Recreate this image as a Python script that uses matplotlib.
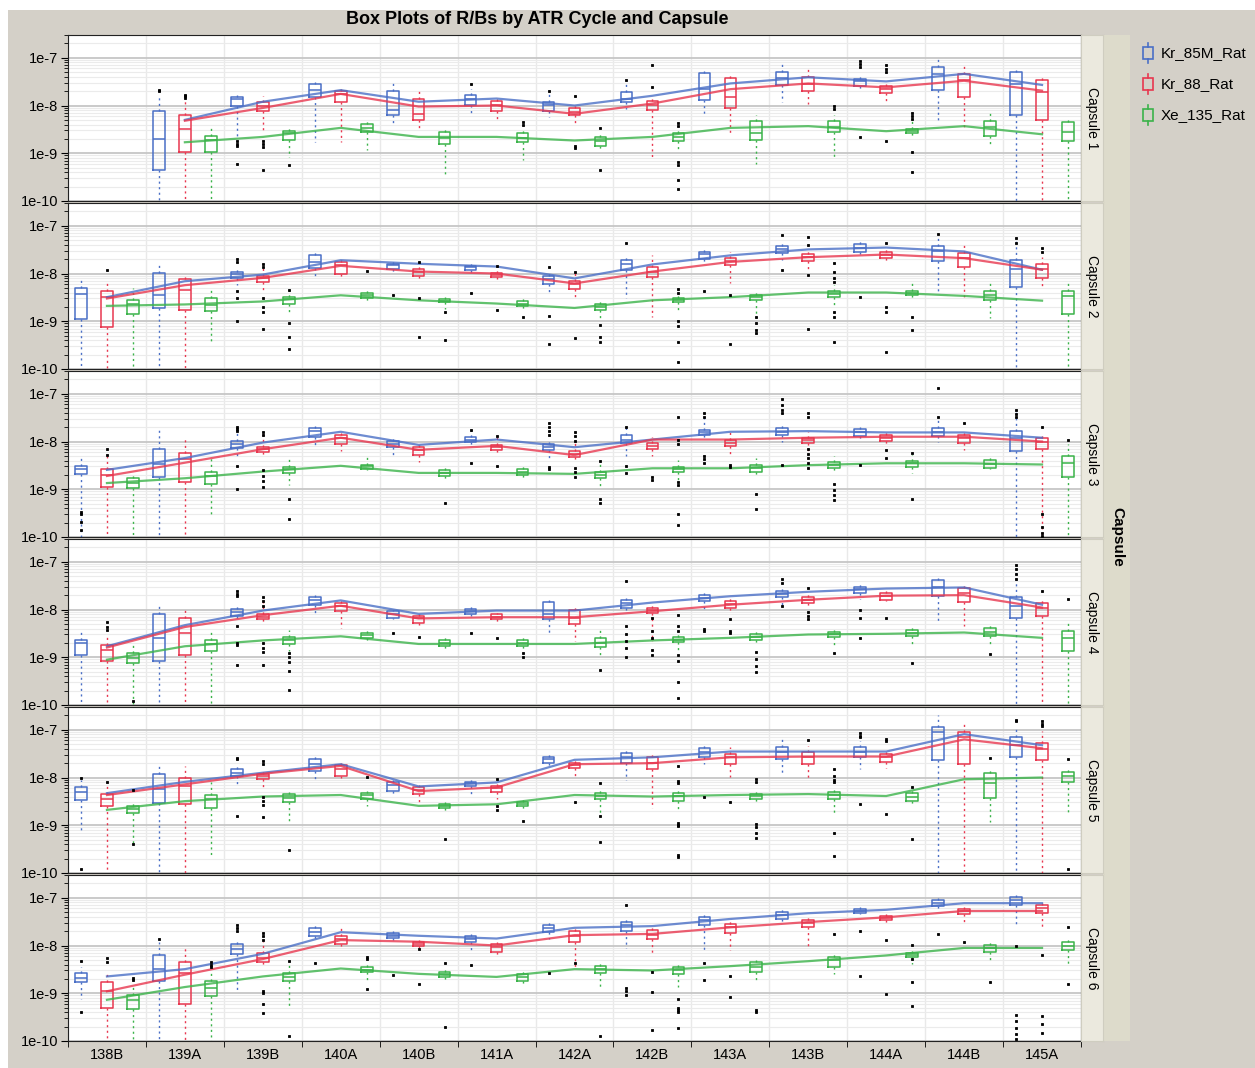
import matplotlib
matplotlib.use("Agg")
import matplotlib.pyplot as plt
from matplotlib.patches import Rectangle
from matplotlib.ticker import LogLocator, NullFormatter, FixedLocator
import numpy as np

plt.rcParams['font.family'] = ['Liberation Sans', 'DejaVu Sans']

TITLE = "Box Plots of R/Bs by ATR Cycle and Capsule"
CYCLES = ["138B", "139A", "139B", "140A", "140B", "141A", "142A",
          "142B", "143A", "143B", "144A", "144B", "145A"]
CAPSULES = ["Capsule 1", "Capsule 2", "Capsule 3", "Capsule 4", "Capsule 5", "Capsule 6"]
SERIES = ["Kr_85M_Rat", "Kr_88_Rat", "Xe_135_Rat"]
COLORS = ["#4a6fc6", "#e8374f", "#3bb34a"]

# box stats per capsule, per cycle: (whisker low, q1, median, q3, whisker high)
BOX_KR85M = [
    [None, (8e-11, 4.4e-10, 2.0e-9, 7.6e-9, 1.7e-8), (2.0e-9, 9.8e-9, 1.35e-8, 1.5e-8, 1.7e-8),
     (1.7e-9, 1.5e-8, 2.1e-8, 2.8e-8, 3.1e-8), (4.0e-9, 6.2e-9, 8.1e-9, 2.0e-8, 3.1e-8),
     (6.7e-9, 1.05e-8, 1.35e-8, 1.7e-8, 2.2e-8), (5.7e-9, 7.6e-9, 1.05e-8, 1.2e-8, 2.0e-8),
     (8.5e-9, 1.2e-8, 1.4e-8, 1.9e-8, 2.8e-8), (6.7e-9, 1.3e-8, 2.2e-8, 4.8e-8, 5.4e-8),
     (1.2e-8, 2.7e-8, 3.8e-8, 5.1e-8, 7.4e-8), (2.1e-8, 2.6e-8, 3.2e-8, 3.6e-8, 4.3e-8),
     (4.9e-9, 2.1e-8, 4.5e-8, 6.3e-8, 9.5e-8), (8e-11, 6.2e-9, 2.8e-8, 5.0e-8, 5.6e-8)],
    [(8e-11, 1.1e-9, 3.8e-9, 5.0e-9, 7.9e-9), (8e-11, 1.9e-9, 3.6e-9, 1.05e-8, 1.75e-8),
     (5.7e-9, 8.1e-9, 1.0e-8, 1.07e-8, 1.4e-8), (7.6e-9, 1.3e-8, 1.75e-8, 2.4e-8, 2.8e-8),
     (1.0e-8, 1.26e-8, 1.5e-8, 1.6e-8, 1.9e-8), (1.0e-8, 1.2e-8, 1.35e-8, 1.45e-8, 1.7e-8),
     (3.8e-9, 6.0e-9, 7.6e-9, 8.9e-9, 1.1e-8), (3.0e-9, 1.2e-8, 1.55e-8, 1.9e-8, 2.2e-8),
     (1.6e-8, 2.0e-8, 2.6e-8, 2.8e-8, 3.3e-8), (1.9e-8, 2.7e-8, 3.2e-8, 3.7e-8, 4.6e-8),
     (2.4e-8, 2.8e-8, 3.5e-8, 4.1e-8, 4.8e-8), (4.3e-9, 1.85e-8, 2.9e-8, 3.7e-8, 6.3e-8),
     (8e-11, 5.2e-9, 1.26e-8, 1.9e-8, 5.4e-8)],
    [(8e-11, 2.1e-9, 2.6e-9, 3.0e-9, 5.2e-9), (8e-11, 1.8e-9, 3.4e-9, 6.9e-9, 1.75e-8),
     (5.0e-9, 7.2e-9, 8.9e-9, 1.05e-8, 1.9e-8), (7.9e-9, 1.26e-8, 1.65e-8, 1.9e-8, 2.1e-8),
     (4.5e-9, 7.6e-9, 8.9e-9, 1.05e-8, 1.2e-8), (8.5e-9, 1.0e-8, 1.1e-8, 1.26e-8, 1.75e-8),
     (4.3e-9, 6.5e-9, 7.6e-9, 8.9e-9, 1.1e-8), (4.9e-9, 9.2e-9, 1.1e-8, 1.35e-8, 2.0e-8),
     (1.2e-8, 1.4e-8, 1.55e-8, 1.75e-8, 3.3e-8), (1.0e-8, 1.35e-8, 1.6e-8, 1.9e-8, 2.2e-8),
     (1.1e-8, 1.3e-8, 1.55e-8, 1.8e-8, 2.0e-8), (1.0e-8, 1.3e-8, 1.6e-8, 1.9e-8, 3.1e-8),
     (8e-11, 6.2e-9, 1.2e-8, 1.7e-8, 4.6e-8)],
    [(8e-11, 1.1e-9, 1.95e-9, 2.3e-9, 3.8e-9), (8e-11, 8.5e-10, 2.5e-9, 8.1e-9, 1.4e-8),
     (6.2e-9, 7.2e-9, 8.9e-9, 1.05e-8, 1.26e-8), (7.9e-9, 1.26e-8, 1.6e-8, 1.8e-8, 2.0e-8),
     (6.2e-9, 6.7e-9, 8.1e-9, 9.2e-9, 1.0e-8), (7.2e-9, 8.1e-9, 9.5e-9, 1.05e-8, 1.26e-8),
     (3.0e-9, 6.2e-9, 8.1e-9, 1.45e-8, 1.6e-8), (8.9e-9, 1.1e-8, 1.35e-8, 1.55e-8, 1.75e-8),
     (1.0e-8, 1.5e-8, 1.75e-8, 2.0e-8, 2.35e-8), (1.26e-8, 1.8e-8, 2.1e-8, 2.4e-8, 2.8e-8),
     (1.7e-8, 2.2e-8, 2.65e-8, 2.9e-8, 3.5e-8), (5.7e-9, 1.9e-8, 2.9e-8, 4.1e-8, 4.5e-8),
     (8e-11, 6.5e-9, 1.2e-8, 1.8e-8, 6.9e-8)],
    [(7.2e-10, 3.4e-9, 5.0e-9, 6.2e-9, 9.0e-9), (8e-11, 2.9e-9, 5.7e-9, 1.2e-8, 2.0e-8),
     (7.2e-9, 1.1e-8, 1.26e-8, 1.5e-8, 1.75e-8), (8.9e-9, 1.4e-8, 1.9e-8, 2.5e-8, 2.8e-8),
     (4.3e-9, 5.2e-9, 6.9e-9, 8.1e-9, 8.9e-9), (4.1e-9, 6.5e-9, 7.5e-9, 8.1e-9, 9.2e-9),
     (1.75e-8, 2.0e-8, 2.4e-8, 2.75e-8, 3.3e-8), (8.9e-9, 2.05e-8, 2.65e-8, 3.3e-8, 3.9e-8),
     (1.9e-8, 2.75e-8, 3.5e-8, 4.1e-8, 5.4e-8), (1.26e-8, 2.4e-8, 3.35e-8, 4.4e-8, 7.5e-8),
     (1.5e-8, 2.65e-8, 3.5e-8, 4.3e-8, 5.9e-8), (8e-11, 2.35e-8, 8.8e-8, 1.17e-7, 2.0e-7),
     (8e-11, 2.7e-8, 4.75e-8, 6.9e-8, 1.03e-7)],
    [(7.6e-10, 1.7e-9, 2.1e-9, 2.6e-9, 3.5e-9), (8e-11, 1.8e-9, 3.2e-9, 6.2e-9, 1.2e-8),
     (1.05e-9, 6.7e-9, 8.5e-9, 1.1e-8, 1.4e-8), (1.26e-8, 1.6e-8, 1.9e-8, 2.35e-8, 2.65e-8),
     (1.26e-8, 1.45e-8, 1.6e-8, 1.8e-8, 2.0e-8), (8.1e-9, 1.2e-8, 1.4e-8, 1.55e-8, 1.75e-8),
     (1.4e-8, 1.9e-8, 2.35e-8, 2.75e-8, 3.35e-8), (8.9e-9, 2.0e-8, 2.65e-8, 3.1e-8, 3.6e-8),
     (7.6e-9, 2.65e-8, 3.35e-8, 3.9e-8, 4.5e-8), (3.1e-8, 3.6e-8, 4.4e-8, 5.0e-8, 5.9e-8),
     (4.5e-8, 4.75e-8, 5.4e-8, 5.9e-8, 6.4e-8), (5.9e-8, 6.6e-8, 7.9e-8, 9.1e-8, 1.0e-7),
     (2.8e-8, 7.1e-8, 9.1e-8, 1.03e-7, 1.17e-7)],
]

BOX_KR88 = [
    [None, (8e-11, 1.05e-9, 3.2e-9, 6.2e-9, 1.4e-8), (3.0e-9, 7.6e-9, 1.0e-8, 1.2e-8, 1.6e-8),
     (1.7e-9, 1.2e-8, 1.75e-8, 2.0e-8, 2.4e-8), (3.0e-9, 5.0e-9, 6.7e-9, 1.4e-8, 2.2e-8),
     (4.9e-9, 7.6e-9, 1.05e-8, 1.26e-8, 1.5e-8), (3.8e-9, 6.2e-9, 7.2e-9, 8.9e-9, 1.07e-8),
     (8.3e-10, 7.9e-9, 1.05e-8, 1.26e-8, 1.6e-8), (2.5e-9, 8.9e-9, 1.5e-8, 3.8e-8, 4.3e-8),
     (1.07e-8, 2.0e-8, 2.8e-8, 3.9e-8, 6.3e-8), (1.2e-8, 1.85e-8, 2.2e-8, 2.6e-8, 2.8e-8),
     (3.5e-9, 1.5e-8, 3.5e-8, 4.6e-8, 6.9e-8), (8e-11, 5.0e-9, 1.9e-8, 3.5e-8, 4.3e-8)],
    [(8e-11, 7.6e-10, 3.2e-9, 4.3e-9, 7.2e-9), (8e-11, 1.7e-9, 4.5e-9, 7.6e-9, 9.2e-9),
     (4.5e-9, 6.7e-9, 7.9e-9, 8.9e-9, 1.5e-8), (7.6e-9, 1.0e-8, 1.5e-8, 1.75e-8, 2.0e-8),
     (7.6e-9, 8.9e-9, 1.1e-8, 1.26e-8, 1.6e-8), (7.6e-9, 8.5e-9, 9.5e-9, 1.05e-8, 1.5e-8),
     (3.0e-9, 4.7e-9, 6.0e-9, 6.9e-9, 1.1e-8), (1.2e-9, 8.5e-9, 1.1e-8, 1.4e-8, 2.4e-8),
     (6.2e-9, 1.5e-8, 1.85e-8, 2.1e-8, 2.8e-8), (1.26e-8, 1.85e-8, 2.2e-8, 2.6e-8, 3.3e-8),
     (1.75e-8, 2.1e-8, 2.5e-8, 2.8e-8, 3.6e-8), (3.0e-9, 1.4e-8, 2.1e-8, 2.7e-8, 4.6e-8),
     (5.2e-9, 8.1e-9, 1.26e-8, 1.6e-8, 2.2e-8)],
    [(8e-11, 1.1e-9, 2.0e-9, 2.6e-9, 4.9e-9), (8e-11, 1.4e-9, 4.3e-9, 5.7e-9, 1.26e-8),
     (4.7e-9, 6.0e-9, 6.9e-9, 7.6e-9, 1.5e-8), (6.2e-9, 8.9e-9, 1.2e-8, 1.4e-8, 1.7e-8),
     (3.8e-9, 5.2e-9, 6.5e-9, 7.6e-9, 9.2e-9), (5.2e-9, 6.7e-9, 7.6e-9, 8.5e-9, 1.26e-8),
     (3.8e-9, 4.7e-9, 5.4e-9, 6.2e-9, 9.2e-9), (4.9e-9, 6.9e-9, 8.1e-9, 9.2e-9, 1.26e-8),
     (4.9e-9, 8.1e-9, 9.5e-9, 1.1e-8, 1.6e-8), (6.2e-9, 9.2e-9, 1.1e-8, 1.2e-8, 1.6e-8),
     (8.9e-9, 1.05e-8, 1.2e-8, 1.4e-8, 1.6e-8), (6.7e-9, 9.2e-9, 1.2e-8, 1.4e-8, 1.6e-8),
     (8e-11, 6.9e-9, 1.0e-8, 1.2e-8, 1.5e-8)],
    [(8e-11, 8.5e-10, 1.45e-9, 1.85e-9, 3.0e-9), (8e-11, 1.1e-9, 3.2e-9, 6.5e-9, 1.1e-8),
     (5.2e-9, 6.3e-9, 7.1e-9, 7.9e-9, 1.6e-8), (4.1e-9, 9.2e-9, 1.2e-8, 1.4e-8, 1.6e-8),
     (4.7e-9, 5.2e-9, 6.5e-9, 7.2e-9, 8.5e-9), (5.5e-9, 6.2e-9, 6.9e-9, 7.9e-9, 8.5e-9),
     (2.2e-9, 4.9e-9, 6.5e-9, 1.0e-8, 1.26e-8), (2.2e-9, 8.5e-9, 1.0e-8, 1.1e-8, 1.4e-8),
     (8.5e-9, 1.1e-8, 1.3e-8, 1.5e-8, 1.75e-8), (1.1e-8, 1.4e-8, 1.6e-8, 1.8e-8, 2.2e-8),
     (1.5e-8, 1.6e-8, 1.9e-8, 2.2e-8, 2.4e-8), (4.5e-9, 1.45e-8, 2.2e-8, 2.8e-8, 3.3e-8),
     (8e-11, 7.2e-9, 1.1e-8, 1.4e-8, 1.7e-8)],
    [(8e-11, 2.55e-9, 3.6e-9, 4.5e-9, 6.5e-9), (8e-11, 2.75e-9, 6.7e-9, 1.0e-8, 1.75e-8),
     (5.7e-9, 9.2e-9, 1.1e-8, 1.2e-8, 1.5e-8), (1.0e-8, 1.1e-8, 1.5e-8, 1.8e-8, 2.2e-8),
     (2.6e-9, 4.5e-9, 5.5e-9, 6.2e-9, 7.9e-9), (3.5e-9, 4.9e-9, 6.0e-9, 6.7e-9, 8.5e-9),
     (1.0e-8, 1.55e-8, 1.8e-8, 2.05e-8, 2.4e-8), (2.35e-9, 1.5e-8, 2.05e-8, 2.65e-8, 3.1e-8),
     (1.05e-8, 1.9e-8, 2.65e-8, 3.1e-8, 4.3e-8), (1.0e-8, 1.9e-8, 2.75e-8, 3.5e-8, 4.6e-8),
     (1.55e-8, 2.1e-8, 2.75e-8, 3.1e-8, 3.6e-8), (8e-11, 1.9e-8, 6.9e-8, 8.8e-8, 1.4e-7),
     (8e-11, 2.35e-8, 3.9e-8, 5.2e-8, 9.5e-8)],
    [(8e-11, 4.9e-10, 1.1e-9, 1.7e-9, 2.75e-9), (8e-11, 6.1e-10, 2.6e-9, 4.5e-9, 9.2e-9),
     (3.5e-9, 4.5e-9, 5.5e-9, 7.0e-9, 1.26e-8), (9.5e-9, 1.1e-8, 1.35e-8, 1.55e-8, 2.4e-8),
     (8.9e-9, 1.0e-8, 1.1e-8, 1.2e-8, 1.3e-8), (6.2e-9, 7.2e-9, 9.5e-9, 1.1e-8, 1.2e-8),
     (3.5e-9, 1.2e-8, 1.6e-8, 2.0e-8, 2.4e-8), (6.2e-9, 1.4e-8, 1.7e-8, 2.1e-8, 2.4e-8),
     (7.9e-9, 1.8e-8, 2.4e-8, 2.85e-8, 3.35e-8), (1.0e-8, 2.4e-8, 2.9e-8, 3.5e-8, 4.3e-8),
     (2.9e-8, 3.35e-8, 3.7e-8, 4.1e-8, 4.5e-8), (2.85e-8, 4.6e-8, 5.3e-8, 5.8e-8, 6.4e-8),
     (2.2e-8, 4.75e-8, 6.2e-8, 6.9e-8, 7.7e-8)],
]

BOX_XE135 = [
    [None, (8e-11, 1.05e-9, 1.9e-9, 2.3e-9, 3.8e-9), (8.3e-10, 1.9e-9, 2.6e-9, 2.9e-9, 3.5e-9),
     (1.15e-9, 2.75e-9, 3.4e-9, 4.2e-9, 4.7e-9), (3.4e-10, 1.6e-9, 2.1e-9, 2.75e-9, 3.2e-9),
     (7.1e-10, 1.7e-9, 2.1e-9, 2.6e-9, 3.0e-9), (1.15e-9, 1.45e-9, 1.85e-9, 2.2e-9, 2.6e-9),
     (1.2e-9, 1.8e-9, 2.2e-9, 2.6e-9, 3.0e-9), (6.0e-10, 1.9e-9, 2.6e-9, 4.7e-9, 6.2e-9),
     (8.3e-10, 2.75e-9, 3.6e-9, 4.7e-9, 6.2e-9), (2.2e-9, 2.6e-9, 2.9e-9, 3.2e-9, 4.9e-9),
     (1.35e-9, 2.3e-9, 3.6e-9, 4.7e-9, 7.6e-9), (8e-11, 1.8e-9, 2.8e-9, 4.5e-9, 5.2e-9)],
    [(8e-11, 1.4e-9, 2.25e-9, 2.75e-9, 5.0e-9), (3.4e-10, 1.65e-9, 2.2e-9, 3.0e-9, 4.5e-9),
     (1.6e-9, 2.3e-9, 2.9e-9, 3.2e-9, 5.0e-9), (2.6e-9, 3.1e-9, 3.5e-9, 4.0e-9, 4.5e-9),
     (1.85e-9, 2.5e-9, 2.7e-9, 2.9e-9, 3.2e-9), (1.85e-9, 2.1e-9, 2.35e-9, 2.6e-9, 3.0e-9),
     (1.15e-9, 1.7e-9, 2.0e-9, 2.3e-9, 2.6e-9), (1.6e-9, 2.5e-9, 2.8e-9, 3.1e-9, 3.8e-9),
     (1.2e-9, 2.75e-9, 3.2e-9, 3.6e-9, 4.5e-9), (1.9e-9, 3.2e-9, 3.8e-9, 4.3e-9, 5.7e-9),
     (3.0e-9, 3.5e-9, 3.9e-9, 4.3e-9, 6.2e-9), (1.15e-9, 2.75e-9, 3.5e-9, 4.3e-9, 7.2e-9),
     (8e-11, 1.45e-9, 3.4e-9, 4.3e-9, 6.7e-9)],
    [(8e-11, 1.05e-9, 1.35e-9, 1.7e-9, 2.2e-9), (2.7e-10, 1.3e-9, 1.9e-9, 2.3e-9, 4.5e-9),
     (1.2e-9, 2.2e-9, 2.6e-9, 2.9e-9, 4.5e-9), (2.5e-9, 2.7e-9, 3.0e-9, 3.3e-9, 5.2e-9),
     (1.6e-9, 1.9e-9, 2.2e-9, 2.5e-9, 3.2e-9), (1.7e-9, 2.0e-9, 2.3e-9, 2.6e-9, 3.0e-9),
     (1.15e-9, 1.7e-9, 2.0e-9, 2.25e-9, 3.5e-9), (1.6e-9, 2.25e-9, 2.6e-9, 2.9e-9, 4.1e-9),
     (1.85e-9, 2.3e-9, 2.8e-9, 3.2e-9, 4.5e-9), (2.2e-9, 2.75e-9, 3.2e-9, 3.8e-9, 4.9e-9),
     (2.2e-9, 2.9e-9, 3.5e-9, 4.0e-9, 5.2e-9), (2.6e-9, 2.75e-9, 3.4e-9, 4.1e-9, 4.7e-9),
     (8e-11, 1.8e-9, 3.5e-9, 5.0e-9, 9.0e-9)],
    [(8e-11, 7.6e-10, 9.5e-10, 1.2e-9, 1.85e-9), (8e-11, 1.35e-9, 1.9e-9, 2.3e-9, 3.8e-9),
     (1.35e-9, 1.9e-9, 2.35e-9, 2.6e-9, 3.8e-9), (2.2e-9, 2.5e-9, 2.9e-9, 3.2e-9, 3.8e-9),
     (1.45e-9, 1.7e-9, 2.0e-9, 2.25e-9, 2.6e-9), (1.35e-9, 1.7e-9, 1.95e-9, 2.25e-9, 2.65e-9),
     (9.7e-10, 1.65e-9, 2.0e-9, 2.5e-9, 3.8e-9), (1.2e-9, 2.1e-9, 2.35e-9, 2.6e-9, 3.2e-9),
     (1.85e-9, 2.3e-9, 2.7e-9, 3.0e-9, 3.6e-9), (1.8e-9, 2.6e-9, 3.0e-9, 3.4e-9, 4.1e-9),
     (1.8e-9, 2.75e-9, 3.2e-9, 3.8e-9, 4.5e-9), (1.85e-9, 2.8e-9, 3.4e-9, 4.1e-9, 4.7e-9),
     (8e-11, 1.35e-9, 2.55e-9, 3.6e-9, 5.2e-9)],
    [(4.2e-10, 1.8e-9, 2.2e-9, 2.5e-9, 3.2e-9), (2.3e-10, 2.3e-9, 3.6e-9, 4.3e-9, 8.1e-9),
     (1.2e-9, 3.0e-9, 3.8e-9, 4.5e-9, 5.0e-9), (2.55e-9, 3.6e-9, 4.3e-9, 4.7e-9, 5.2e-9),
     (1.85e-9, 2.25e-9, 2.55e-9, 2.75e-9, 3.1e-9), (2.2e-9, 2.55e-9, 2.8e-9, 3.1e-9, 3.8e-9),
     (1.6e-9, 3.5e-9, 4.1e-9, 4.7e-9, 5.7e-9), (2.2e-9, 3.2e-9, 4.1e-9, 4.7e-9, 5.7e-9),
     (2.75e-9, 3.5e-9, 4.1e-9, 4.5e-9, 5.7e-9), (1.7e-9, 3.5e-9, 4.3e-9, 5.0e-9, 5.7e-9),
     (2.55e-9, 3.2e-9, 4.0e-9, 4.7e-9, 6.7e-9), (1.15e-9, 3.8e-9, 7.6e-9, 1.26e-8, 1.6e-8),
     (1.7e-9, 8.1e-9, 1.1e-8, 1.3e-8, 1.6e-8)],
    [(8e-11, 4.7e-10, 7.1e-10, 9.4e-10, 1.6e-9), (8e-11, 8.9e-10, 1.3e-9, 1.8e-9, 3.0e-9),
     (5.2e-10, 1.8e-9, 2.2e-9, 2.6e-9, 4.0e-9), (1.9e-9, 2.75e-9, 3.1e-9, 3.6e-9, 4.1e-9),
     (1.8e-9, 2.2e-9, 2.55e-9, 2.8e-9, 3.2e-9), (1.6e-9, 1.85e-9, 2.2e-9, 2.5e-9, 2.9e-9),
     (1.2e-9, 2.6e-9, 3.2e-9, 3.8e-9, 4.5e-9), (1.35e-9, 2.5e-9, 3.1e-9, 3.6e-9, 4.3e-9),
     (1.65e-9, 2.75e-9, 3.5e-9, 4.5e-9, 5.0e-9), (2.55e-9, 3.6e-9, 4.9e-9, 5.7e-9, 6.7e-9),
     (4.1e-9, 5.7e-9, 6.3e-9, 6.9e-9, 8.5e-9), (4.7e-9, 7.2e-9, 8.9e-9, 1.05e-8, 1.2e-8),
     (4.1e-9, 7.9e-9, 1.0e-8, 1.2e-8, 1.4e-8)],
]

# trend line values at each cycle (one row per capsule)
LINE_KR85M = [
    [None, 5.0e-9, 1.2e-8, 2.1e-8, 1.2e-8, 1.4e-8, 1.0e-8, 1.6e-8, 2.9e-8, 3.9e-8, 3.2e-8, 4.6e-8, 2.7e-8],
    [3.2e-9, 6.9e-9, 9.5e-9, 1.9e-8, 1.6e-8, 1.4e-8, 7.9e-9, 1.55e-8, 2.4e-8, 3.2e-8, 3.5e-8, 2.9e-8, 1.2e-8],
    [2.55e-9, 4.5e-9, 9.5e-9, 1.6e-8, 8.5e-9, 1.1e-8, 7.6e-9, 1.1e-8, 1.6e-8, 1.65e-8, 1.55e-8, 1.55e-8, 1.2e-8],
    [1.7e-9, 4.7e-9, 9.5e-9, 1.55e-8, 8.1e-9, 9.5e-9, 9.5e-9, 1.4e-8, 1.9e-8, 2.35e-8, 2.75e-8, 2.9e-8, 1.26e-8],
    [4.7e-9, 8.1e-9, 1.26e-8, 1.9e-8, 6.5e-9, 7.9e-9, 2.35e-8, 2.65e-8, 3.5e-8, 3.5e-8, 3.5e-8, 8.1e-8, 4.75e-8],
    [2.25e-9, 3.2e-9, 6.7e-9, 1.9e-8, 1.6e-8, 1.4e-8, 2.35e-8, 2.55e-8, 3.6e-8, 4.75e-8, 5.6e-8, 7.7e-8, 7.7e-8],
]
LINE_KR88 = [
    [None, 4.8e-9, 8.9e-9, 1.75e-8, 9.5e-9, 1.0e-8, 6.7e-9, 1.1e-8, 2.2e-8, 2.9e-8, 2.4e-8, 3.3e-8, 2.05e-8],
    [3.0e-9, 5.7e-9, 8.1e-9, 1.45e-8, 1.1e-8, 1.0e-8, 6.2e-9, 1.1e-8, 1.75e-8, 2.2e-8, 2.5e-8, 2.1e-8, 1.2e-8],
    [1.9e-9, 3.6e-9, 6.9e-9, 1.2e-8, 6.7e-9, 8.1e-9, 5.2e-9, 1.1e-8, 1.1e-8, 1.2e-8, 1.26e-8, 1.26e-8, 1.0e-8],
    [1.6e-9, 4.3e-9, 7.6e-9, 1.2e-8, 6.5e-9, 6.9e-9, 6.9e-9, 9.2e-9, 1.26e-8, 1.6e-8, 1.95e-8, 2.0e-8, 1.1e-8],
    [4.3e-9, 7.2e-9, 1.2e-8, 1.75e-8, 5.2e-9, 6.2e-9, 1.9e-8, 2.0e-8, 2.65e-8, 2.75e-8, 2.75e-8, 6.3e-8, 4.1e-8],
    [1.1e-9, 2.45e-9, 5.2e-9, 1.3e-8, 1.2e-8, 1.0e-8, 1.65e-8, 1.75e-8, 2.4e-8, 3.1e-8, 3.9e-8, 5.3e-8, 5.3e-8],
]
LINE_XE135 = [
    [None, 1.7e-9, 2.2e-9, 3.4e-9, 2.2e-9, 2.2e-9, 1.85e-9, 2.2e-9, 3.4e-9, 3.7e-9, 2.9e-9, 3.7e-9, 2.5e-9],
    [2.1e-9, 2.25e-9, 2.6e-9, 3.5e-9, 2.75e-9, 2.35e-9, 1.9e-9, 2.75e-9, 3.2e-9, 4.0e-9, 4.0e-9, 3.4e-9, 2.7e-9],
    [1.35e-9, 1.7e-9, 2.35e-9, 3.1e-9, 2.2e-9, 2.2e-9, 2.1e-9, 2.75e-9, 2.75e-9, 3.2e-9, 3.5e-9, 3.5e-9, 3.3e-9],
    [8.9e-10, 1.7e-9, 2.25e-9, 2.75e-9, 1.9e-9, 1.9e-9, 1.9e-9, 2.25e-9, 2.55e-9, 3.0e-9, 3.1e-9, 3.3e-9, 2.55e-9],
    [2.1e-9, 3.2e-9, 4.0e-9, 4.3e-9, 2.55e-9, 2.75e-9, 4.3e-9, 4.0e-9, 4.3e-9, 4.5e-9, 4.1e-9, 9.2e-9, 1.0e-8],
    [7.3e-10, 1.35e-9, 2.25e-9, 3.3e-9, 2.55e-9, 2.2e-9, 3.2e-9, 3.0e-9, 3.7e-9, 4.7e-9, 6.2e-9, 8.9e-9, 8.9e-9],
]

# outliers: (cycle index, series index, value)
OUT_C1 = [(1, 0, 2.1e-8), (1, 0, 2.0e-8), (1, 1, 1.65e-8), (1, 1, 1.55e-8), (1, 1, 1.45e-8),
          (2, 0, 1.8e-9), (2, 0, 1.6e-9), (2, 0, 1.45e-9), (2, 0, 6e-10), (2, 1, 1.8e-9),
          (2, 1, 1.6e-9), (2, 1, 1.35e-9), (2, 1, 4.4e-10), (2, 2, 5.8e-10), (5, 0, 2.8e-8),
          (5, 2, 4.5e-9), (5, 2, 4.0e-9), (6, 0, 2.0e-8), (6, 1, 1.6e-8), (6, 1, 1.45e-9),
          (6, 1, 1.3e-9), (6, 2, 3.4e-9), (6, 2, 4.5e-10), (7, 0, 3.5e-8), (7, 1, 2.4e-8),
          (7, 1, 6.9e-8), (7, 2, 4.3e-9), (7, 2, 3.8e-9), (7, 2, 6.5e-10), (7, 2, 5.8e-10),
          (7, 2, 2.7e-10), (7, 2, 1.8e-10), (9, 2, 1.0e-8), (9, 2, 8.5e-9), (10, 0, 8.7e-8),
          (10, 0, 7.5e-8), (10, 0, 6.4e-8), (10, 0, 2.2e-9), (10, 1, 6.9e-8), (10, 1, 5.9e-8),
          (10, 1, 5.0e-8), (10, 1, 1.8e-9), (10, 2, 7.0e-9), (10, 2, 6.0e-9), (10, 2, 5.2e-9),
          (10, 2, 1.05e-9), (10, 2, 4.0e-10)]
OUT_C2 = [(0, 1, 1.2e-8), (2, 0, 2.0e-8), (2, 0, 1.75e-8), (2, 0, 4.3e-9), (2, 0, 3.0e-9),
          (2, 0, 1.0e-9), (2, 1, 1.6e-8), (2, 1, 1.4e-8), (2, 1, 3.0e-9), (2, 1, 2.0e-9),
          (2, 1, 1.6e-9), (2, 1, 6.8e-10), (2, 2, 4.5e-9), (2, 2, 9e-10), (2, 2, 4.7e-10),
          (2, 2, 2.6e-10), (3, 2, 1.15e-8), (4, 0, 3.6e-9), (4, 1, 1.75e-8), (4, 1, 3.0e-9),
          (4, 1, 4.7e-10), (4, 2, 1.6e-9), (4, 2, 4.0e-10), (5, 0, 4.0e-9), (5, 1, 1.45e-8),
          (5, 1, 1.7e-9), (5, 2, 1.2e-9), (6, 0, 1.4e-8), (6, 0, 1.3e-9), (6, 0, 3.4e-10),
          (6, 1, 1.1e-8), (6, 1, 4.4e-10), (6, 2, 8.5e-10), (6, 2, 4.7e-10), (6, 2, 3.7e-10),
          (7, 0, 4.3e-8), (7, 2, 4.7e-9), (7, 2, 4.0e-9), (7, 2, 1.0e-9), (7, 2, 8e-10),
          (7, 2, 3.7e-10), (7, 2, 1.4e-10), (8, 0, 4.3e-9), (8, 1, 3.6e-9), (8, 1, 3.4e-10),
          (8, 2, 1.2e-9), (8, 2, 9e-10), (8, 2, 6.5e-10), (8, 2, 5.8e-10), (9, 0, 6.5e-8),
          (9, 0, 1.2e-8), (9, 1, 5.9e-8), (9, 1, 3.9e-8), (9, 1, 9.2e-9), (9, 1, 7e-10),
          (9, 2, 1.7e-8), (9, 2, 1.1e-8), (9, 2, 8e-9), (9, 2, 6.5e-9), (9, 2, 1.6e-9),
          (9, 2, 1.2e-9), (9, 2, 3.7e-10), (10, 0, 3.2e-9), (10, 1, 4.3e-8), (10, 1, 2.0e-9),
          (10, 1, 1.6e-9), (10, 1, 2.3e-10), (10, 2, 1.2e-9), (10, 2, 6.5e-10), (11, 0, 6.6e-8),
          (12, 0, 5.6e-8), (12, 0, 4.3e-8), (12, 1, 3.5e-8), (12, 1, 2.8e-8)]
OUT_C3 = [(0, 0, 3.4e-10), (0, 0, 3.0e-10), (0, 0, 2.1e-10), (0, 0, 1.4e-10), (0, 1, 7e-9),
          (0, 1, 5.2e-9), (2, 0, 2.0e-8), (2, 0, 1.8e-8), (2, 0, 1.7e-8), (2, 0, 3.0e-9),
          (2, 0, 1.0e-9), (2, 1, 1.6e-8), (2, 1, 1.4e-8), (2, 1, 2.5e-9), (2, 1, 1.9e-9),
          (2, 1, 1.5e-9), (2, 1, 1.1e-9), (2, 2, 6.3e-10), (2, 2, 2.4e-10), (4, 2, 5.2e-10),
          (5, 0, 1.75e-8), (5, 0, 3.5e-9), (5, 1, 1.3e-8), (5, 1, 3.0e-9), (6, 0, 2.4e-8),
          (6, 0, 2.0e-8), (6, 0, 1.7e-8), (6, 0, 1.4e-8), (6, 0, 2.9e-9), (6, 0, 2.6e-9),
          (6, 1, 1.6e-8), (6, 1, 1.3e-8), (6, 1, 1.05e-8), (6, 1, 2.8e-9), (6, 1, 2.3e-9),
          (6, 1, 1.8e-9), (6, 2, 4.0e-9), (6, 2, 6.3e-10), (6, 2, 5.2e-10), (7, 0, 2.0e-8),
          (7, 0, 3.0e-9), (7, 0, 2.2e-9), (7, 1, 1.8e-9), (7, 1, 1.6e-9), (7, 2, 3.3e-8),
          (7, 2, 1.1e-8), (7, 2, 9e-9), (7, 2, 1.4e-9), (7, 2, 1.2e-9), (7, 2, 3.0e-10),
          (7, 2, 1.8e-10), (8, 0, 4.0e-8), (8, 0, 3.3e-8), (8, 0, 5e-9), (8, 0, 4.3e-9),
          (8, 0, 3.6e-9), (8, 1, 3.3e-9), (8, 1, 2.9e-9), (8, 2, 8e-10), (8, 2, 3.9e-10),
          (9, 0, 7.9e-8), (9, 0, 5.9e-8), (9, 0, 4.6e-8), (9, 0, 3.9e-8), (9, 0, 3.3e-9),
          (9, 1, 4e-8), (9, 1, 3.3e-8), (9, 1, 7e-9), (9, 1, 5.5e-9), (9, 1, 4.5e-9),
          (9, 1, 3.5e-9), (9, 1, 2.8e-9), (9, 2, 1.3e-9), (9, 2, 9.5e-10), (9, 2, 7.5e-10),
          (9, 2, 6e-10), (10, 0, 3.3e-9), (10, 1, 6.5e-9), (10, 1, 4.5e-9), (10, 2, 5.8e-9),
          (10, 2, 6.3e-10), (11, 0, 1.3e-7), (11, 0, 3.2e-8), (11, 1, 2.4e-8), (12, 0, 4.6e-8),
          (12, 0, 3.8e-8), (12, 0, 3.3e-8), (12, 1, 2.0e-8), (12, 1, 3.0e-10), (12, 1, 1.6e-10),
          (12, 1, 1.2e-10), (12, 1, 1.05e-10), (12, 2, 1.1e-8)]
OUT_C4 = [(0, 1, 5.5e-9), (0, 1, 4.3e-9), (0, 1, 3.8e-9), (0, 2, 1.2e-10), (2, 0, 2.4e-8),
          (2, 0, 2.1e-8), (2, 0, 1.9e-8), (2, 0, 4.5e-9), (2, 0, 2.0e-9), (2, 0, 1.8e-9),
          (2, 0, 7e-10), (2, 1, 1.8e-8), (2, 1, 1.5e-8), (2, 1, 1.2e-8), (2, 1, 2.0e-9),
          (2, 1, 1.6e-9), (2, 1, 1.3e-9), (2, 1, 7e-10), (2, 2, 1.2e-9), (2, 2, 1.0e-9),
          (2, 2, 8e-10), (2, 2, 5.2e-10), (2, 2, 2.1e-10), (4, 0, 3.2e-9), (4, 1, 2.6e-9),
          (5, 0, 3.2e-9), (5, 1, 2.5e-9), (5, 2, 1.2e-9), (5, 2, 1.0e-9), (6, 2, 5.5e-10),
          (7, 0, 4.0e-8), (7, 0, 4.5e-9), (7, 0, 3e-9), (7, 0, 2.2e-9), (7, 0, 1.6e-9),
          (7, 0, 1.0e-9), (7, 1, 6.5e-9), (7, 1, 3.5e-9), (7, 1, 2.5e-9), (7, 1, 1.4e-9),
          (7, 1, 1.1e-9), (7, 2, 7.5e-9), (7, 2, 4.5e-9), (7, 2, 3.6e-9), (7, 2, 1.1e-9),
          (7, 2, 8.5e-10), (7, 2, 3.0e-10), (7, 2, 1.4e-10), (8, 0, 4.0e-9), (8, 0, 3.5e-9),
          (8, 1, 6.2e-9), (8, 1, 3.6e-9), (8, 1, 3.2e-9), (8, 2, 1.3e-9), (8, 2, 9e-10),
          (8, 2, 6.5e-10), (8, 2, 5e-10), (9, 0, 4.4e-8), (9, 0, 3.6e-8), (9, 0, 1.2e-8),
          (9, 1, 2.8e-8), (9, 1, 9e-9), (9, 1, 7.2e-9), (9, 1, 6.2e-9), (9, 2, 1.2e-9),
          (10, 0, 1.0e-8), (10, 0, 6.5e-9), (10, 0, 2.5e-9), (10, 1, 6.8e-9), (10, 2, 7.5e-10),
          (11, 2, 1.15e-9), (12, 0, 8.5e-8), (12, 0, 7e-8), (12, 0, 5.5e-8), (12, 0, 4.3e-8),
          (12, 1, 2.5e-8), (12, 2, 1.7e-8)]
OUT_C5 = [(0, 0, 1.0e-8), (0, 0, 1.2e-10), (0, 1, 8.1e-9), (0, 2, 5.6e-9), (0, 2, 4.0e-10),
          (2, 0, 2.6e-8), (2, 0, 2.4e-8), (2, 0, 1.6e-9), (2, 1, 2.2e-8), (2, 1, 1.9e-8),
          (2, 1, 4.0e-9), (2, 1, 3.2e-9), (2, 1, 2.6e-9), (2, 1, 1.5e-9), (2, 2, 3.0e-10),
          (3, 2, 1.05e-8), (4, 2, 5.2e-10), (5, 1, 9.5e-9), (5, 1, 2.5e-9), (5, 1, 2.1e-9),
          (5, 2, 1.2e-9), (6, 1, 3.1e-9), (6, 2, 7.5e-9), (6, 2, 1.6e-9), (6, 2, 4.5e-10),
          (7, 2, 1.75e-8), (7, 2, 8.5e-9), (7, 2, 7.5e-9), (7, 2, 1.1e-9), (7, 2, 1.0e-9),
          (7, 2, 9.5e-10), (7, 2, 2.4e-10), (7, 2, 2.2e-10), (8, 0, 4.0e-9), (8, 1, 3.0e-9),
          (8, 2, 9.5e-9), (8, 2, 8e-9), (8, 2, 1.05e-9), (8, 2, 9e-10), (8, 2, 7e-10),
          (8, 2, 5.5e-10), (9, 1, 6.1e-8), (9, 2, 1.5e-8), (9, 2, 1.1e-8), (9, 2, 9e-9),
          (9, 2, 8e-9), (9, 2, 6.8e-10), (9, 2, 2.3e-10), (10, 0, 8.5e-8), (10, 0, 7.5e-8),
          (10, 0, 7e-8), (10, 0, 2.8e-9), (10, 1, 6.5e-8), (10, 1, 5.9e-8), (10, 1, 1.7e-9),
          (10, 2, 6.2e-9), (10, 2, 5.2e-10), (11, 2, 2.6e-8), (12, 0, 1.6e-7), (12, 0, 1.5e-7),
          (12, 1, 1.5e-7), (12, 1, 1.3e-7), (12, 1, 1.2e-7), (12, 2, 2.5e-8), (12, 2, 1.2e-10)]
OUT_C6 = [(0, 0, 4.7e-9), (0, 0, 4.0e-10), (0, 1, 5.5e-9), (0, 1, 4.5e-9), (0, 2, 2.1e-9),
          (0, 2, 1.9e-9), (1, 0, 1.4e-8), (1, 2, 4.5e-9), (1, 2, 4.0e-9), (1, 2, 3.5e-9),
          (2, 0, 2.7e-8), (2, 0, 2.3e-8), (2, 0, 2.0e-8), (2, 1, 1.8e-8), (2, 1, 1.55e-8),
          (2, 1, 1.3e-8), (2, 1, 1.1e-9), (2, 1, 1.0e-9), (2, 1, 6e-10), (2, 1, 3.9e-10),
          (2, 2, 4.7e-9), (2, 2, 1.3e-10), (3, 0, 4.3e-9), (3, 2, 5.7e-9), (3, 2, 5.2e-9),
          (3, 2, 1.2e-9), (4, 0, 2.4e-9), (4, 1, 8.5e-9), (4, 1, 1.6e-9), (4, 2, 4.3e-9),
          (4, 2, 2.0e-10), (5, 0, 4.0e-9), (6, 0, 2.7e-9), (6, 1, 4.3e-9), (6, 2, 1.3e-10),
          (7, 0, 6.9e-8), (7, 0, 1.3e-9), (7, 0, 1.1e-9), (7, 0, 9e-10), (7, 1, 2.8e-9),
          (7, 1, 1.05e-9), (7, 1, 1.7e-10), (7, 2, 7.5e-10), (7, 2, 5e-10), (7, 2, 4.5e-10),
          (7, 2, 4e-10), (7, 2, 1.9e-10), (8, 0, 4.3e-9), (8, 0, 1.9e-9), (8, 1, 2.3e-9),
          (8, 1, 8.5e-10), (8, 2, 4.5e-10), (8, 2, 4.0e-10), (9, 2, 1.75e-8), (10, 0, 2.0e-8),
          (10, 0, 2.3e-9), (10, 1, 1.3e-8), (10, 1, 9.5e-10), (10, 2, 1.05e-8), (10, 2, 5.2e-9),
          (10, 2, 1.7e-9), (10, 2, 5.5e-10), (11, 0, 1.75e-8), (11, 1, 1.2e-8), (11, 2, 1.7e-9),
          (12, 0, 1.0e-8), (12, 0, 3.5e-10), (12, 0, 2.6e-10), (12, 0, 1.9e-10), (12, 0, 1.4e-10),
          (12, 0, 1.1e-10), (12, 1, 6.2e-9), (12, 1, 3.3e-10), (12, 1, 2.3e-10), (12, 1, 1.5e-10),
          (12, 2, 2.4e-8), (12, 2, 1.6e-9)]

ALL_BOXES = [BOX_KR85M, BOX_KR88, BOX_XE135]
ALL_LINES = [LINE_KR85M, LINE_KR88, LINE_XE135]
ALL_OUT = [OUT_C1, OUT_C2, OUT_C3, OUT_C4, OUT_C5, OUT_C6]
OFFSETS = [-1 / 3, 0.0, 1 / 3]

W, H = 1255, 1068
fig = plt.figure(figsize=(W / 100, H / 100), dpi=100, facecolor='white')


def frac(x0, y0, x1, y1):
    # pixel box (from top-left) -> figure fraction rect
    return [x0 / W, 1 - y1 / H, (x1 - x0) / W, (y1 - y0) / H]


fig.patches.append(Rectangle((8 / W, 0), 1 - 8 / W, 1 - 10 / H, transform=fig.transFigure,
                             facecolor='#d4d0c8', edgecolor='none', zorder=-5))
fig.patches.append(Rectangle((1103 / W, 1 - 1041 / H), 27 / W, 1006 / H, transform=fig.transFigure,
                             facecolor='#dddbcb', edgecolor='none', zorder=-4))

fig.text(537 / W, 1 - 20 / H, TITLE, ha='center', va='center', fontsize=13, fontweight='bold')

xs = np.arange(len(CYCLES))
for k in range(6):
    top = 35 + 168 * k
    ax = fig.add_axes(frac(68, top, 1081, top + 166))
    ax.set_yscale('log')
    ax.set_ylim(1e-10, 3e-7)
    ax.set_xlim(-0.5, len(CYCLES) - 0.5)
    ax.set_axisbelow(True)

    for s in range(3):
        col = COLORS[s]
        stats, pos = [], []
        for i, b in enumerate(ALL_BOXES[s][k]):
            if b is None:
                continue
            lo, q1, med, q3, hi = b
            stats.append(dict(whislo=lo, q1=q1, med=med, q3=q3, whishi=hi, fliers=[]))
            pos.append(i + OFFSETS[s])
        ax.bxp(stats, positions=pos, widths=0.15, showcaps=False, showfliers=False,
               manage_ticks=False,
               boxprops=dict(color=col, linewidth=1.1),
               medianprops=dict(color=col, linewidth=1.1),
               whiskerprops=dict(color=col, linewidth=1.0, linestyle=(0, (1.5, 2.5))))
        line = np.array([np.nan if v is None else v for v in ALL_LINES[s][k]])
        ax.plot(xs, line, color=col, lw=1.6, alpha=0.8, zorder=4)

    ox = [c + OFFSETS[sr] for c, sr, v in ALL_OUT[k]]
    oy = [v for c, sr, v in ALL_OUT[k]]
    ax.plot(ox, oy, ls='none', marker='s', ms=2.0, mew=0.6, color='black', zorder=5)

    ax.set_yticks([1e-10, 1e-9, 1e-8, 1e-7])
    ax.set_yticklabels(['1e-10', '1e-9', '1e-8', '1e-7'])
    ax.yaxis.set_minor_locator(LogLocator(base=10, subs=np.arange(2, 10)))
    ax.yaxis.set_minor_formatter(NullFormatter())
    ax.tick_params(axis='y', which='major', length=5, labelsize=10.5, pad=2)
    ax.tick_params(axis='y', which='minor', length=3)

    ax.set_xticks(xs)
    ax.xaxis.set_minor_locator(FixedLocator(np.arange(-0.5, len(CYCLES), 1.0)))
    if k == 5:
        ax.set_xticklabels(CYCLES)
        ax.tick_params(axis='x', which='major', length=0, labelsize=10.5, pad=5)
        ax.tick_params(axis='x', which='minor', length=4)
    else:
        ax.tick_params(axis='x', which='both', length=0, labelbottom=False)

    ax.grid(True, which='major', axis='y', color='#c6c6c6', lw=1.3)
    ax.grid(True, which='minor', axis='y', color='#ebebeb', lw=0.8)
    ax.grid(True, which='minor', axis='x', color='#e9e9e9', lw=1.0)
    for sp in ax.spines.values():
        sp.set_color('#222222')

    sax = fig.add_axes(frac(1081, top, 1103, top + 166))
    sax.set_facecolor('#ebe9de')
    sax.set_xticks([])
    sax.set_yticks([])
    for sp in sax.spines.values():
        sp.set_color('#cfcdc0')
    sax.text(0.5, 0.5, CAPSULES[k], rotation=270, ha='center', va='center',
             fontsize=10, transform=sax.transAxes)

fig.text(1117 / W, 1 - 537 / H, "Capsule", rotation=270, ha='center', va='center',
         fontsize=11, fontweight='bold')

# legend with box glyphs
lax = fig.add_axes(frac(1132, 35, 1255, 130))
lax.set_xlim(1132, 1255)
lax.set_ylim(130, 35)
lax.axis('off')
for j, (name, col) in enumerate(zip(SERIES, COLORS)):
    yc = 53 + 31 * j
    lax.add_patch(Rectangle((1143, yc - 6), 10, 12, fill=False, edgecolor=col, lw=1.2))
    lax.plot([1148, 1148], [yc - 10, yc - 6], color=col, lw=1.2)
    lax.plot([1148, 1148], [yc + 6, yc + 10], color=col, lw=1.2)
    lax.text(1161, yc, name, ha='left', va='center', fontsize=11)

fig.savefig("out.png", dpi=100, facecolor=fig.get_facecolor())
